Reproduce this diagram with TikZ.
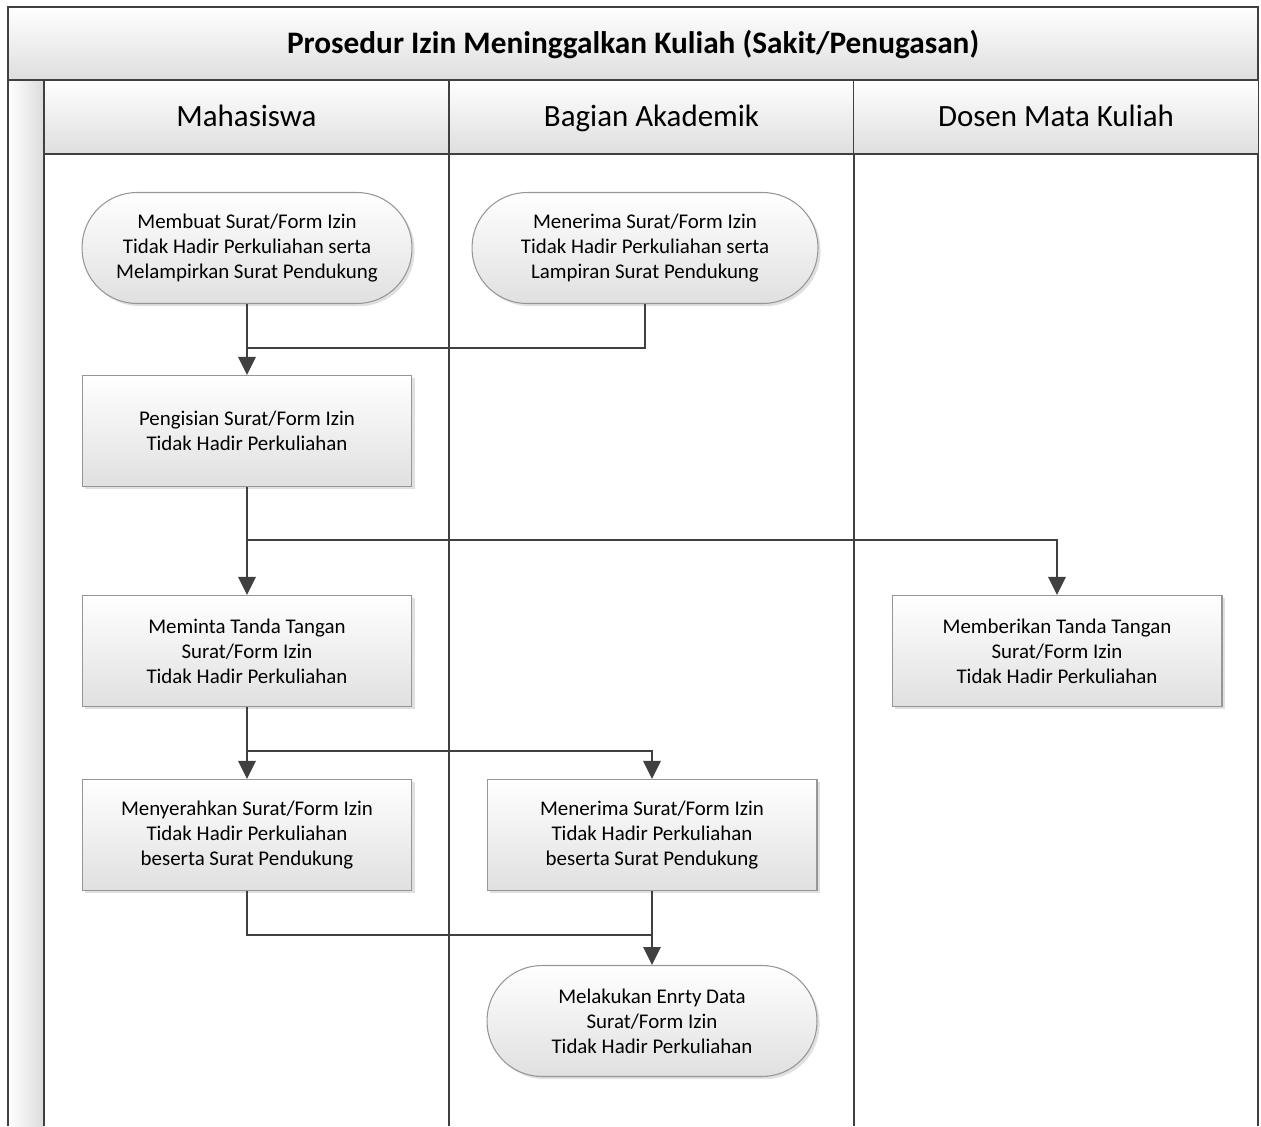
\documentclass[tikz,border=0pt]{standalone}
\usepackage{fontspec}
\setmainfont{Carlito}
\usetikzlibrary{positioning,arrows.meta,shadows}

\definecolor{linedark}{RGB}{64,64,64}
\definecolor{boxgray}{RGB}{150,150,150}
\definecolor{boxfill}{RGB}{224,224,224}
\definecolor{hdrfill}{RGB}{222,222,222}

\tikzset{
  lane/.style={draw=linedark, line width=0.9pt},
  lanehead/.style={lane, top color=white, bottom color=hdrfill, inner sep=0pt, outer sep=0pt,
    text height=11.3pt, text depth=0pt,
    minimum width=8.1cm, minimum height=1.48cm, font=\fontsize{17.6}{20}\selectfont},
  basebox/.style={draw=boxgray, line width=0.6pt, top color=white, bottom color=boxfill,
    align=center, minimum width=6.6cm, minimum height=2.22cm, inner sep=2pt,
    font=\fontsize{11.9}{14.2}\selectfont,
    drop shadow={shadow xshift=1.5pt, shadow yshift=-1.5pt, fill=black!30, opacity=0.4}},
  procbox/.style={basebox},
  termbox/.style={basebox, rounded corners=1.1cm},
  conn/.style={draw=linedark, line width=1.6pt},
  flow/.style={conn, -{Triangle[length=0.36cm, width=0.34cm]}},
}

\begin{document}
\begin{tikzpicture}[x=0.02cm, y=-0.02cm]
  \useasboundingbox (0,0) rectangle (1261,1126);

  % pool and lanes
  \fill[left color=white, right color=black!14] (8,80) rectangle (44,1126);
  \node[lanehead, minimum width=25cm, minimum height=1.46cm, font=\fontsize{17.8}{20}\selectfont\bfseries]
    (title) at (633,43.5) {Prosedur Izin Meninggalkan Kuliah (Sakit/Penugasan)};
  \node[lanehead] (mhs) at (246.5,117) {Mahasiswa};
  \node[lanehead] (akd) at (651.5,117) {Bagian Akademik};
  \node[lanehead] (dsn) at (1056,117) {Dosen Mata Kuliah};
  \draw[lane] (8,80) -- (8,1126);
  \draw[lane] (44,154) -- (44,1126);
  \draw[lane] (449,154) -- (449,1126);
  \draw[lane] (854,154) -- (854,1126);
  \draw[lane] (1258,154) -- (1258,1126);

  % steps
  \node[termbox] (buat) at (247,248) {Membuat Surat/Form Izin\\Tidak Hadir Perkuliahan serta\\Melampirkan Surat Pendukung};
  \node[termbox, minimum width=6.92cm] (terima) at (645,248) {Menerima Surat/Form Izin\\Tidak Hadir Perkuliahan serta\\Lampiran Surat Pendukung};
  \node[procbox] (isi) at (247,431) {Pengisian Surat/Form Izin\\Tidak Hadir Perkuliahan};
  \node[procbox] (minta) at (247,651) {Meminta Tanda Tangan\\Surat/Form Izin\\Tidak Hadir Perkuliahan};
  \node[procbox] (ttd) at (1057,651) {Memberikan Tanda Tangan\\Surat/Form Izin\\Tidak Hadir Perkuliahan};
  \node[procbox] (serah) at (247,835) {Menyerahkan Surat/Form Izin\\Tidak Hadir Perkuliahan\\beserta Surat Pendukung};
  \node[procbox] (terimadok) at (652,835) {Menerima Surat/Form Izin\\Tidak Hadir Perkuliahan\\beserta Surat Pendukung};
  \node[termbox] (entry) at (652,1021) {Melakukan Enrty Data\\Surat/Form Izin\\Tidak Hadir Perkuliahan};

  % junctions
  \coordinate (j1) at (247,348);
  \coordinate (j2) at (247,540);
  \coordinate (j3) at (247,751);
  \coordinate (j4) at (652,935);

  % flows
  \draw[flow] (buat) -- (isi);
  \draw[conn] (terima) |- (j1);
  \draw[flow] (isi) -- (minta);
  \draw[flow] (j2) -| (ttd);
  \draw[flow] (minta) -- (serah);
  \draw[flow] (j3) -| (terimadok);
  \draw[flow] (terimadok) -- (entry);
  \draw[conn] (serah) |- (j4);
\end{tikzpicture}
\end{document}
